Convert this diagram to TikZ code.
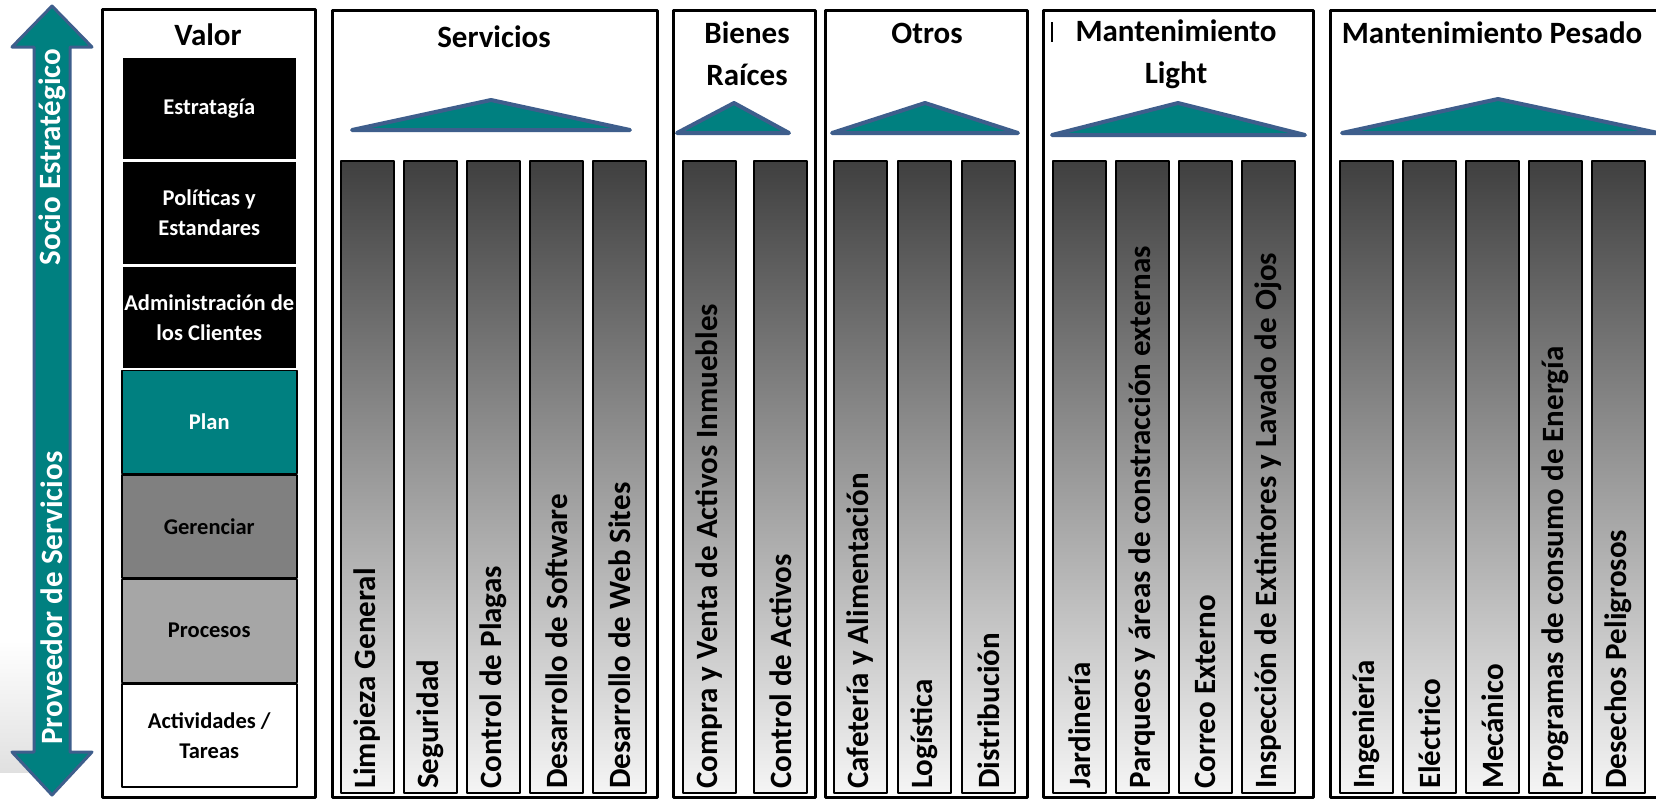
\documentclass[tikz,border=0pt]{standalone}
\usepackage{fontspec}
\setmainfont{Carlito}
\usetikzlibrary{positioning}
\definecolor{tealbox}{RGB}{0,128,128}
\definecolor{roofedge}{RGB}{62,94,140}
\definecolor{gerbox}{RGB}{128,128,128}
\definecolor{probox}{RGB}{166,166,166}

\begin{document}
\begin{tikzpicture}[x=1pt, y=-1pt, line join=round,
  panel/.style = {draw, line width=3pt},
  roof/.style = {draw=roofedge, fill=tealbox, line width=4pt, line cap=round},
  lvl/.style = {minimum width=175pt, minimum height=103pt, inner sep=0pt, line width=1.5pt, align=center, font=\bfseries\fontsize{22.5}{30}\selectfont},
  col/.style = {draw, line width=2pt, minimum width=53pt, minimum height=632pt, inner sep=0pt, top color=black!75, bottom color=black!4},
  lbl/.style = {rotate=90, anchor=west, inner sep=0pt, font=\bfseries\fontsize{31}{36}\selectfont},
  ttl/.style = {align=center, inner sep=0pt, font=\bfseries\fontsize{31}{42}\selectfont}]

\useasboundingbox (0,0) rectangle (1656,801);
\fill[white] (0,0) rectangle (1656,801);

% flecha de la izquierda
\fill[top color=white, bottom color=black!12] (0,640) rectangle (34,772);
\draw[draw=roofedge, fill=tealbox, line width=3pt] (52,6) -- (92,47) -- (70,47) -- (70,752) -- (92,752) -- (52,795) -- (12,752) -- (34,752) -- (34,47) -- (12,47) -- cycle;
\node[ttl, rotate=90, text=white] (socio) at (52,157) {Socio Estratégico};
\node[ttl, rotate=90, text=white] (prov) at (52,598) {Proveedor de Servicios};

% Valor
\draw[panel] (102,9) rectangle (315,797);
\node[ttl] (valor) at (208,35) {Valor};
\node[lvl, fill=black, draw=white, text=white, anchor=north west] (v1) at (121,56) {Estratagía};
\node[lvl, fill=black, draw=white, text=white, below=0pt of v1] (v2) {Políticas y\\Estandares};
\node[lvl, fill=black, draw=white, text=white, below=0pt of v2] (v3) {Administración de\\los Clientes};
\node[lvl, fill=tealbox, draw=black, text=white, below=0pt of v3] (v4) {Plan};
\node[lvl, fill=gerbox, draw=black, below=0pt of v4] (v5) {Gerenciar};
\node[lvl, fill=probox, draw=black, below=0pt of v5] (v6) {Procesos};
\node[lvl, fill=white, draw=black, below=0pt of v6] (v7) {Actividades /\\Tareas};

% Servicios
\draw[panel] (332,10) rectangle (657,797);
\node[ttl] (serv) at (494,37) {Servicios};
\draw[roof] (352,130) -- (491,100) -- (630,130) -- cycle;
\node[col, anchor=north west] (s1) at (340,160) {};
\node[col, right=8pt of s1] (s2) {};
\node[col, right=8pt of s2] (s3) {};
\node[col, right=8pt of s3] (s4) {};
\node[col, right=8pt of s4] (s5) {};
\node[lbl] (ts1) at ([yshift=5pt]s1.south) {Limpieza General};
\node[lbl] (ts2) at ([yshift=5pt]s2.south) {Seguridad};
\node[lbl] (ts3) at ([yshift=5pt]s3.south) {Control de Plagas};
\node[lbl] (ts4) at ([yshift=5pt]s4.south) {Desarrollo de Software};
\node[lbl] (ts5) at ([yshift=5pt]s5.south) {Desarrollo de Web Sites};

% Bienes Raices
\draw[panel] (673,10) rectangle (815,797);
\node[ttl] (bien) at (747,54) {Bienes\\Raíces};
\draw[roof] (677,133) -- (734,103) -- (789,133) -- cycle;
\node[col, anchor=north west] (b1) at (682,160) {};
\node[col, right=16pt of b1] (b2) {};
\node[lbl] (tb1) at ([yshift=5pt]b1.south) {Compra y Venta de Activos Inmuebles};
\node[lbl] (tb2) at ([yshift=5pt]b2.south) {Control de Activos};

% Otros
\draw[panel] (825,10) rectangle (1027,797);
\node[ttl] (otros) at (927,33) {Otros};
\draw[roof] (832,133) -- (925,103) -- (1018,133) -- cycle;
\node[col, anchor=north west] (o1) at (833,160) {};
\node[col, right=9pt of o1] (o2) {};
\node[col, right=9pt of o2] (o3) {};
\node[lbl] (to1) at ([yshift=5pt]o1.south) {Cafetería y Alimentación};
\node[lbl] (to2) at ([yshift=5pt]o2.south) {Logística};
\node[lbl] (to3) at ([yshift=5pt]o3.south) {Distribución};

% Mantenimiento Light
\draw[panel] (1043,10) rectangle (1313,797);
\draw[line width=2pt] (1052,22) -- (1052,42);
\node[ttl] (light) at (1176,54) {Mantenimiento\\Light};
\draw[roof] (1052,135) -- (1178,103) -- (1305,135) -- cycle;
\node[col, anchor=north west] (l1) at (1052,160) {};
\node[col, right=8pt of l1] (l2) {};
\node[col, right=8pt of l2] (l3) {};
\node[col, right=8pt of l3] (l4) {};
\node[lbl] (tl1) at ([yshift=5pt]l1.south) {Jardinería};
\node[lbl] (tl2) at ([yshift=5pt]l2.south) {Parqueos y áreas de constracción externas};
\node[lbl] (tl3) at ([yshift=5pt]l3.south) {Correo Externo};
\node[lbl] (tl4) at ([yshift=5pt]l4.south) {Inspección de Extintores y Lavado de Ojos};

% Mantenimiento Pesado
\draw[panel] (1330,10) rectangle (1680,797);
\node[ttl] (pesado) at (1492,33) {Mantenimiento Pesado};
\draw[roof] (1342,133) -- (1498,99) -- (1658,133) -- cycle;
\node[col, anchor=north west] (p1) at (1339,160) {};
\node[col, right=8pt of p1] (p2) {};
\node[col, right=8pt of p2] (p3) {};
\node[col, right=8pt of p3] (p4) {};
\node[col, right=8pt of p4] (p5) {};
\node[lbl] (tp1) at ([yshift=5pt]p1.south) {Ingeniería};
\node[lbl] (tp2) at ([yshift=5pt]p2.south) {Eléctrico};
\node[lbl] (tp3) at ([yshift=5pt]p3.south) {Mecánico};
\node[lbl] (tp4) at ([yshift=5pt]p4.south) {Programas de consumo de Energía};
\node[lbl] (tp5) at ([yshift=5pt]p5.south) {Desechos Peligrosos};
\end{tikzpicture}
\end{document}
